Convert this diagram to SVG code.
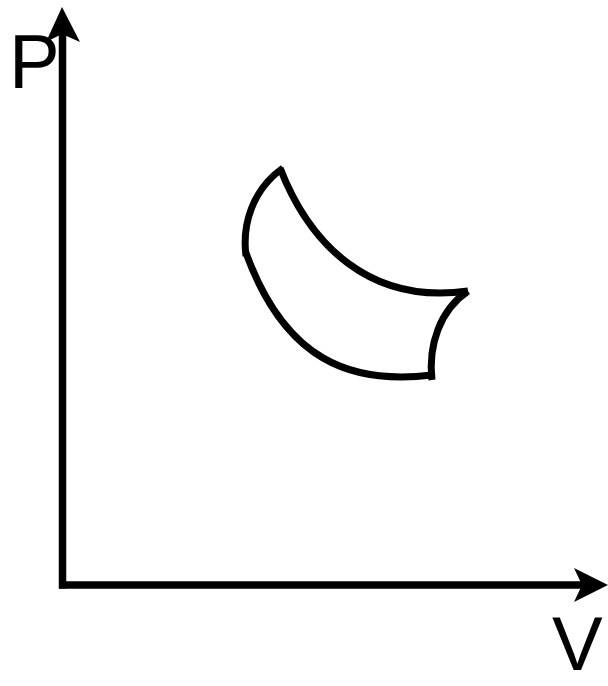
<svg xmlns="http://www.w3.org/2000/svg" width="608" height="686" viewBox="0 0 608 686">
<style>
.ax{stroke:#000;stroke-width:7.5;fill:none}
.cy{stroke:#000;stroke-width:7;fill:none;stroke-linejoin:miter}
.lbl{font-family:"Liberation Sans",Arial,sans-serif;font-size:76px;fill:#000}
</style>
<rect width="608" height="686" fill="#fff"/>
<g id="axes">
<line class="ax" x1="62.5" y1="30" x2="62.5" y2="588.5"/>
<line class="ax" x1="59" y1="585" x2="585" y2="585"/>
<path d="M62,7 L80,42 L62,34 L46,42 Z" fill="#000"/>
<path d="M608,585 L574,602 L582,585 L574,568 Z" fill="#000"/>
</g>
<g id="label-P"><text class="lbl" x="9" y="88">P</text></g>
<g id="label-V"><text class="lbl" x="552" y="670">V</text></g>
<g id="cycle">
<path class="cy" d="M280,168 C310,245 370,305 468,291"/>
<path class="cy" d="M468,291 C440,310 428,345 432,380"/>
<path class="cy" d="M432,375 C350,385 285,360 246,253"/>
<path class="cy" d="M283,168 C252,190 242,225 246,256"/>
</g>
</svg>
